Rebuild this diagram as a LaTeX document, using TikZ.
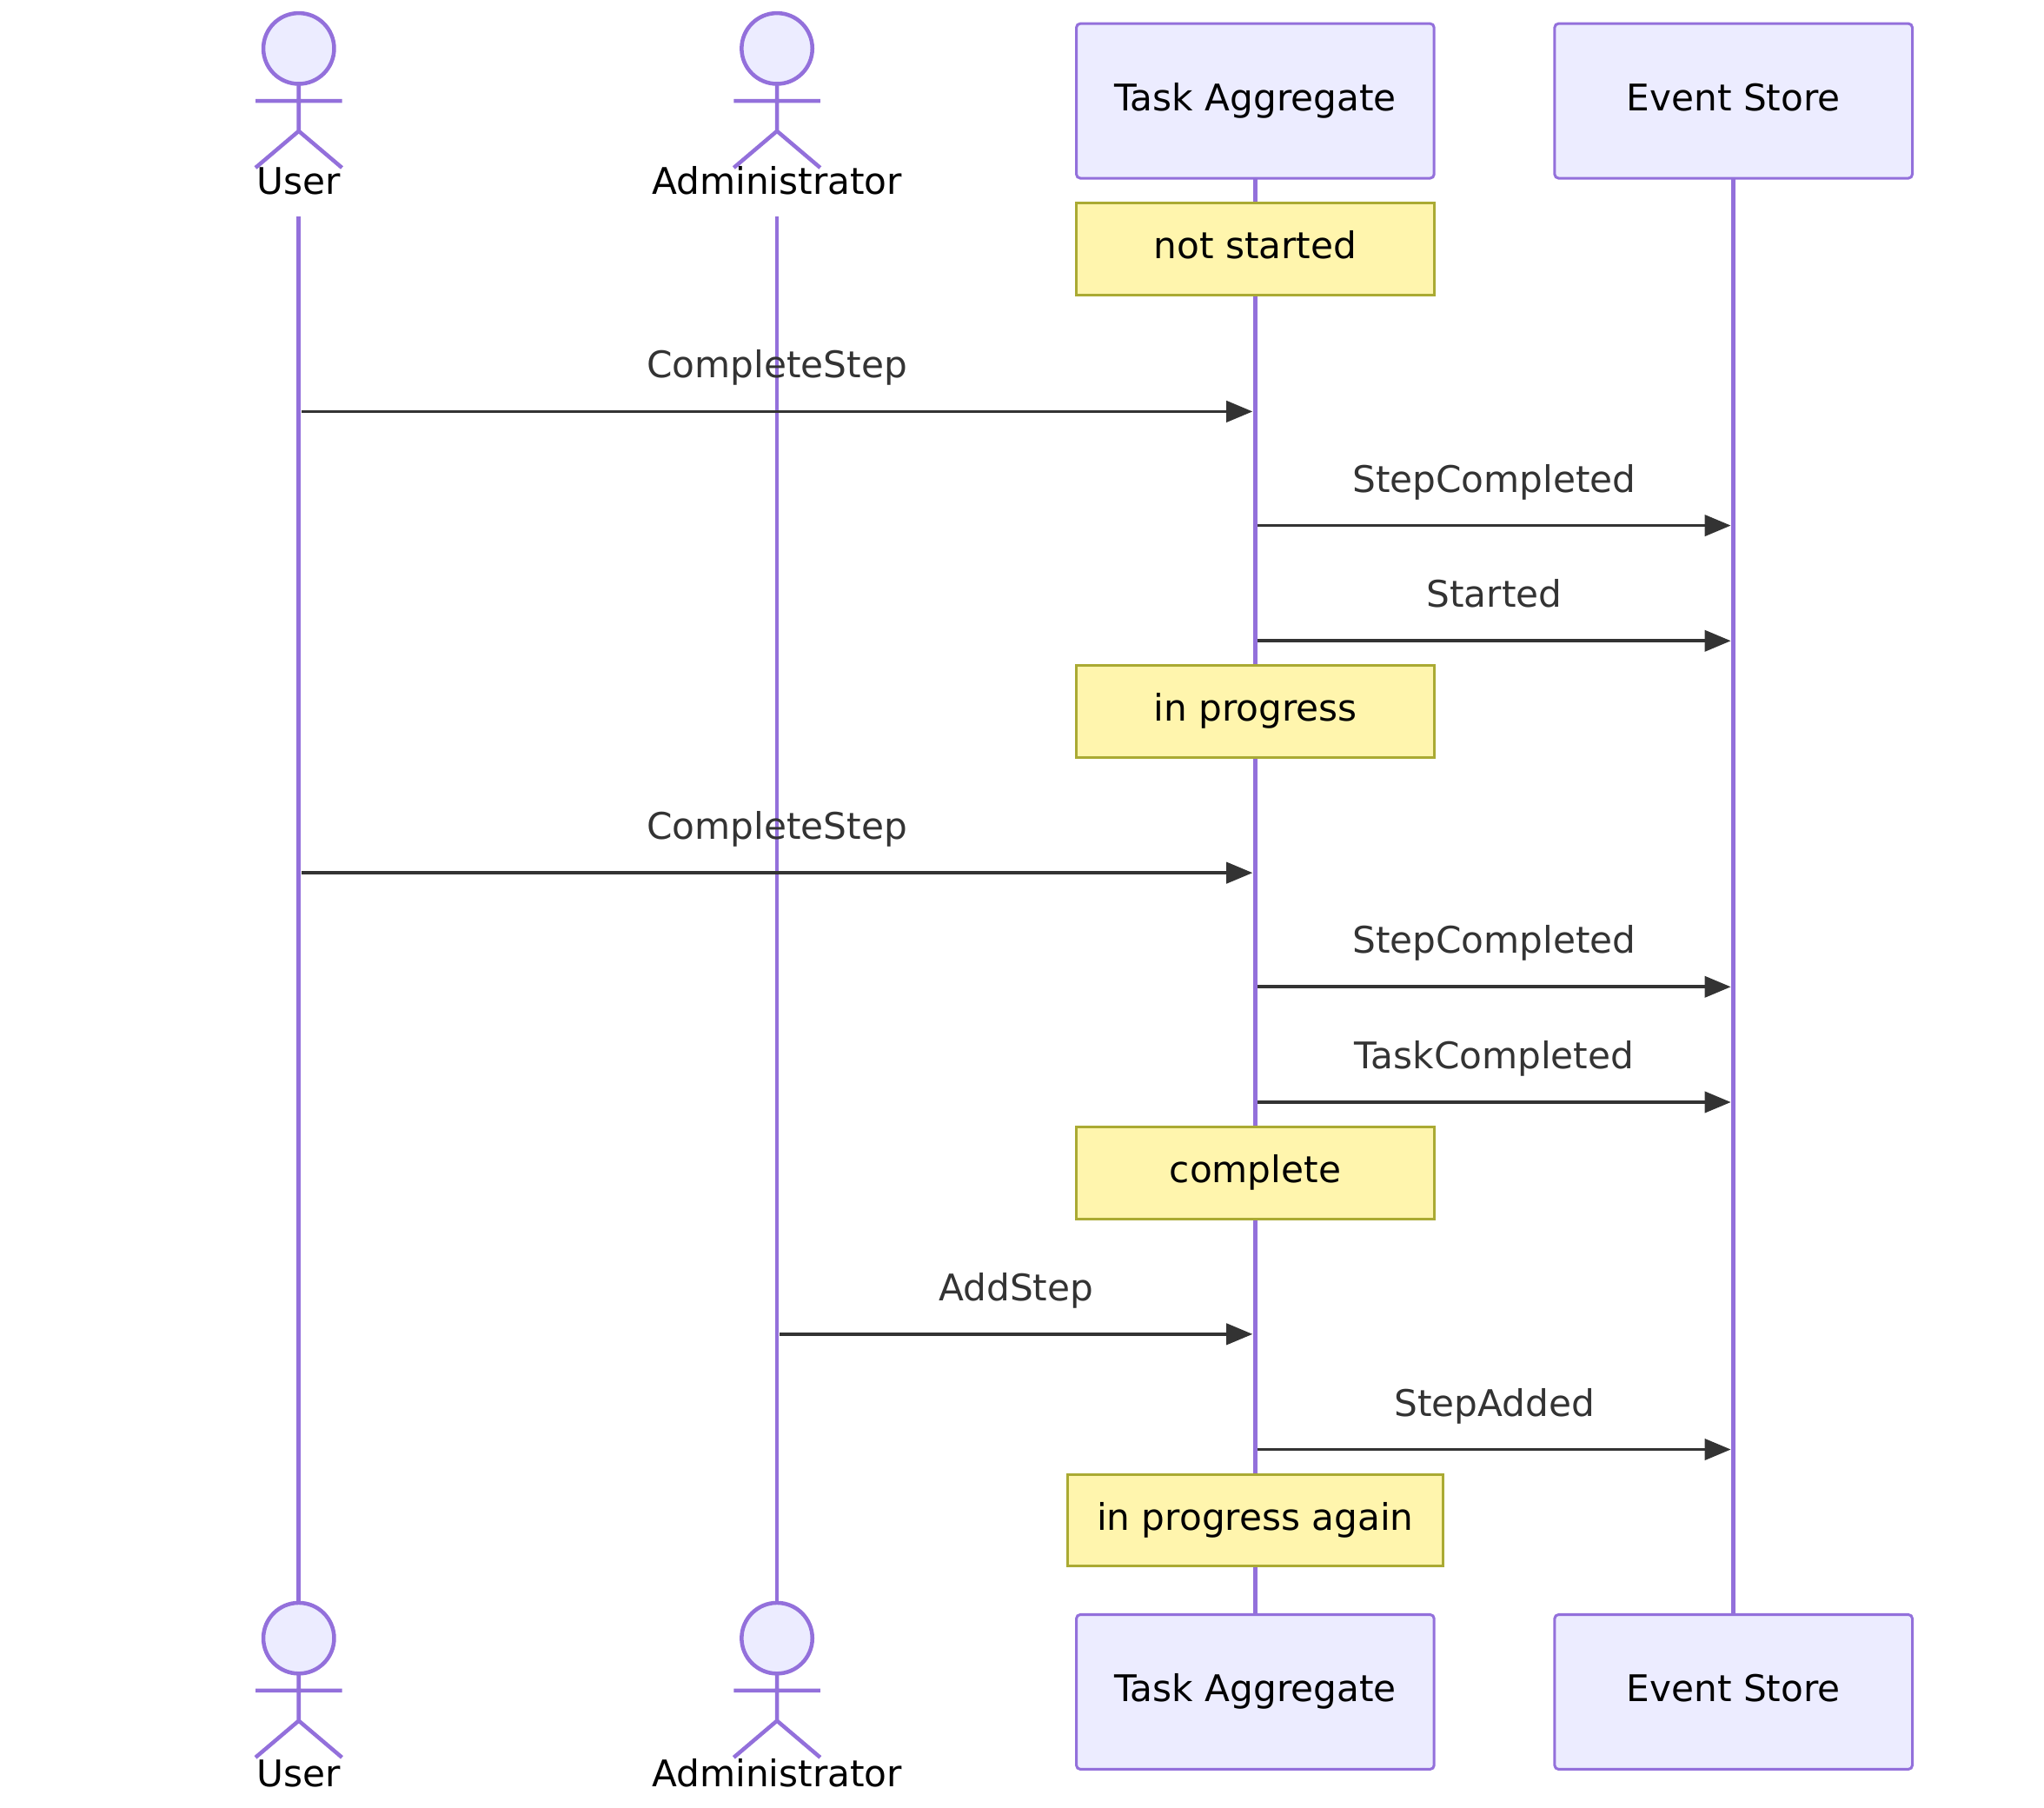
\documentclass[tikz,border=0pt]{standalone}
\usepackage{fontspec}
\setmainfont{DejaVu Sans}
\usetikzlibrary{arrows.meta}
\definecolor{lf}{HTML}{9370DB}
\definecolor{bx}{HTML}{ECECFF}
\definecolor{nf}{HTML}{FFF5AD}
\definecolor{ns}{HTML}{AAAA33}
\definecolor{ar}{HTML}{333333}
\begin{document}
\begin{tikzpicture}[x=1pt,y=-1pt,
  fs/.style={font=\fontsize{28}{33}\selectfont,text height=21pt,text depth=6pt},
  life/.style={draw=lf,line width=3pt},
  box/.style={fs,draw=lf,fill=bx,line width=2pt,rounded corners=3pt,minimum width=273pt,minimum height=118pt,inner sep=0pt},
  note/.style={fs,draw=ns,fill=nf,line width=2pt,minimum height=70pt,inner sep=0pt},
  msg/.style={draw=ar,line width=2.5pt,-{Triangle[length=20pt,width=16pt]}},
  ml/.style={fs,text=ar},
  al/.style={fs}]
\useasboundingbox (0,0) rectangle (1560,1379);
% lifelines
\coordinate (u1) at (228,165); \coordinate (u2) at (228,1222);
\coordinate (a1) at (593,165); \coordinate (a2) at (593,1222);
\coordinate (t1) at (958,136); \coordinate (t2) at (958,1232);
\coordinate (e1) at (1323,136); \coordinate (e2) at (1323,1232);
\draw[life] (u1)--(u2); \draw[life] (a1)--(a2);
\draw[life] (t1)--(t2); \draw[life] (e1)--(e2);
% actors
\foreach \x/\y in {228/0,593/0,228/1213,593/1213}{
  \begin{scope}[shift={(\x,\y)}]
  \draw[draw=lf,fill=bx,line width=3pt] (0,37) circle (27);
  \draw[draw=lf,line width=3pt] (0,64)--(0,100) (-33,77)--(33,77) (-33,128)--(0,100)--(33,128);
  \end{scope}}
\node[al] (uTl) at (228,141) {User};
\node[al] (aTl) at (593,141) {Administrator};
\node[al] (uBl) at (228,1356) {User};
\node[al] (aBl) at (593,1356) {Administrator};
% boxes
\node[box] (tT) at (958,77) {Task Aggregate};
\node[box] (eT) at (1323,77) {Event Store};
\node[box] (tB) at (958,1291) {Task Aggregate};
\node[box] (eB) at (1323,1291) {Event Store};
% notes
\node[note,minimum width=273pt] (n1) at (958,190) {not started};
\node[note,minimum width=273pt] (n2) at (958,543) {in progress};
\node[note,minimum width=273pt] (n3) at (958,895) {complete};
\node[note,minimum width=287pt] (n4) at (958,1160) {in progress again};
% messages
\foreach \y/\sx/\ex/\t in {314/228/958/CompleteStep,401/958/1323/StepCompleted,489/958/1323/Started,666/228/958/CompleteStep,753/958/1323/StepCompleted,841/958/1323/TaskCompleted,1018/593/958/AddStep,1106/958/1323/StepAdded}{
  \coordinate (m\y a) at (\sx+2,\y); \coordinate (m\y b) at (\ex-2,\y);
  \draw[msg] (m\y a)--(m\y b);
  \node[ml] at ({(\sx+\ex)/2},\y-33) {\t};
}
\end{tikzpicture}
\end{document}
